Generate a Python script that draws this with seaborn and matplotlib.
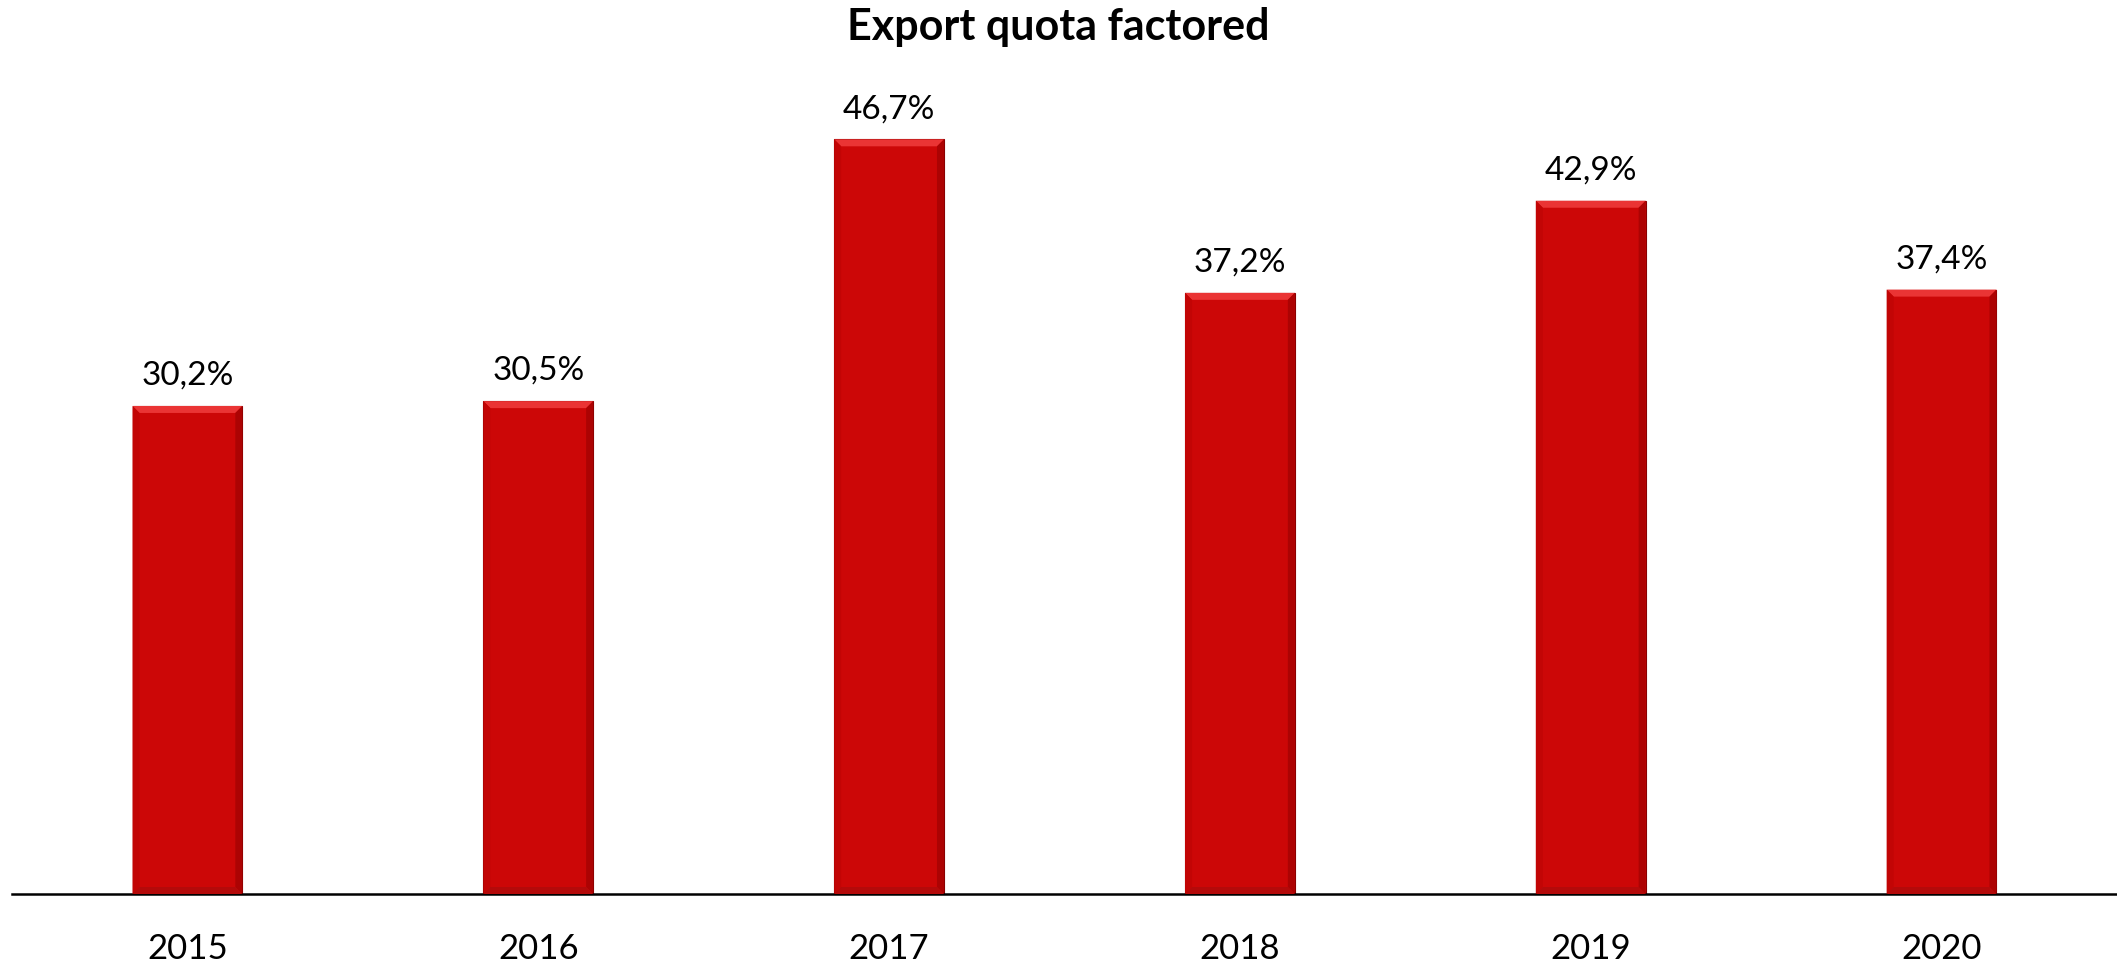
import matplotlib
matplotlib.use("Agg")
import matplotlib.pyplot as plt
from matplotlib.patches import Polygon
import seaborn as sns
import pandas as pd

# Export quota per year (percent)
years = ["2015", "2016", "2017", "2018", "2019", "2020"]
export_quota = [30.2, 30.5, 46.7, 37.2, 42.9, 37.4]
value_labels = ["30,2%", "30,5%", "46,7%", "37,2%", "42,9%", "37,4%"]
title_text = "Export quota factored"

sns.set_theme(style="white")
plt.rcParams["font.family"] = ["Lato", "DejaVu Sans"]

W, H, DPI = 2117, 963, 100
fig = plt.figure(figsize=(W / DPI, H / DPI), dpi=DPI)
fig.patch.set_facecolor("white")

ax_left, ax_right = 12, 2117
ax_bottom_px, ax_height_px = 894, 808
ax = fig.add_axes([ax_left / W, (H - ax_bottom_px) / H,
                   (ax_right - ax_left) / W, ax_height_px / H])

df = pd.DataFrame({"year": years, "quota": export_quota})
sns.barplot(data=df, x="year", y="quota", color="#CC0707", saturation=1,
            width=0.313, edgecolor="#8A0000", linewidth=0.8, ax=ax)

ax.set_xlim(-0.5, len(years) - 0.5)
ax.set_ylim(0, 50)
ax.set_xlabel("")
ax.set_ylabel("")
ax.set_yticks([])
for side in ("left", "right", "top"):
    ax.spines[side].set_visible(False)
ax.spines["bottom"].set_color("black")
ax.spines["bottom"].set_linewidth(1.8)
ax.tick_params(axis="x", length=0, pad=28, labelsize=25, labelcolor="black")

# Bevel shading on each bar, built from the bar geometry in pixel space
fig.canvas.draw()
inv = fig.transFigure.inverted()
bev = 7
for bar in ax.patches:
    x0, y0 = bar.get_x(), bar.get_y()
    x1, y1 = x0 + bar.get_width(), y0 + bar.get_height()
    (px0, py0), (px1, py1) = ax.transData.transform([(x0, y0), (x1, y1)])
    faces = [
        ([(px0, py1), (px1, py1), (px1 - bev, py1 - bev), (px0 + bev, py1 - bev)], "#EA3434"),
        ([(px0, py0), (px0, py1), (px0 + bev, py1 - bev), (px0 + bev, py0 + bev)], "#C20505"),
        ([(px1, py0), (px1, py1), (px1 - bev, py1 - bev), (px1 - bev, py0 + bev)], "#AC0303"),
        ([(px0, py0), (px1, py0), (px1 - bev, py0 + bev), (px0 + bev, py0 + bev)], "#B40A0A"),
    ]
    for pts, col in faces:
        fpts = inv.transform(pts)
        fig.add_artist(Polygon(fpts, closed=True, facecolor=col, edgecolor="none",
                               transform=fig.transFigure, zorder=3))

# Value labels above bars
for i, (v, lab) in enumerate(zip(export_quota, value_labels)):
    ax.annotate(lab, (i, v), xytext=(0, 11), textcoords="offset points",
                ha="center", va="bottom", fontsize=24, color="black")

fig.text(0.5, 1 - 27 / H, title_text, ha="center", va="center",
         fontsize=31, fontweight="bold", color="black")

fig.savefig("out.png", dpi=DPI, facecolor="white")
